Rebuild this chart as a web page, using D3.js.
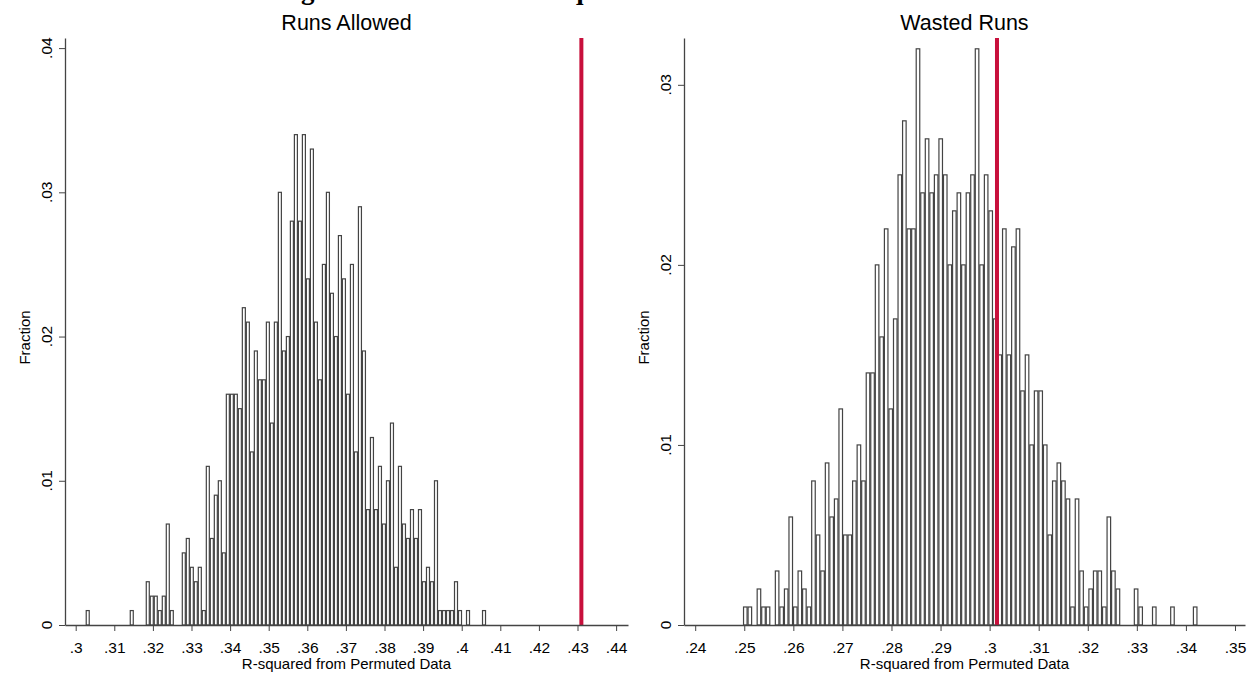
<!DOCTYPE html>
<html>
<head>
<meta charset="utf-8">
<script src="https://cdn.jsdelivr.net/npm/d3@7"></script>
<style>
  body { margin: 0; background: #fff; }
  text { font-family: "Liberation Sans", Arial, sans-serif; }
</style>
</head>
<body>
<svg width="1251" height="681"></svg>
<script>
// Data: counts per bin (out of 1000 permutations), 100 bins per panel
const runsAllowedCounts = [
    1, 0, 0, 0, 0, 0, 0, 0, 0, 0,
    0, 1, 0, 0, 0, 3, 2, 2, 1, 2,
    7, 1, 0, 0, 5, 6, 4, 3, 4, 1,
    11, 6, 9, 10, 5, 16, 16, 16, 15, 22,
    21, 12, 19, 17, 17, 21, 14, 21, 30, 19,
    20, 28, 34, 28, 34, 24, 33, 21, 17, 25,
    30, 23, 20, 27, 24, 16, 25, 12, 29, 19,
    8, 13, 8, 11, 7, 10, 14, 4, 11, 7,
    6, 8, 6, 8, 3, 4, 3, 10, 1, 1,
    1, 1, 3, 1, 0, 1, 0, 0, 0, 1
];
const wastedRunsCounts = [
    1, 1, 0, 2, 1, 1, 0, 3, 1, 2,
    6, 1, 3, 2, 1, 8, 5, 3, 9, 6,
    7, 12, 5, 5, 8, 10, 8, 14, 14, 20,
    16, 22, 12, 17, 25, 28, 22, 22, 32, 24,
    27, 24, 25, 27, 25, 20, 23, 24, 20, 24,
    25, 32, 20, 25, 23, 17, 15, 22, 15, 21,
    22, 13, 15, 10, 13, 13, 10, 5, 8, 9,
    8, 7, 1, 7, 3, 1, 2, 3, 3, 1,
    6, 3, 2, 0, 0, 0, 2, 1, 0, 0,
    1, 0, 0, 0, 1, 0, 0, 0, 0, 1
];
const totalPermutations = 1000;
const runsAllowedBins = { start: 0.3026, width: 0.001037 };
const wastedRunsBins = { start: 0.24975, width: 0.000926 };
const runsAllowedActual = 0.431;
const wastedRunsActual = 0.3015;
const runsAllowedXTicks = [0.3, 0.31, 0.32, 0.33, 0.34, 0.35, 0.36, 0.37, 0.38, 0.39, 0.4, 0.41, 0.42, 0.43, 0.44];
const wastedRunsXTicks = [0.24, 0.25, 0.26, 0.27, 0.28, 0.29, 0.3, 0.31, 0.32, 0.33, 0.34, 0.35];
const runsAllowedYTicks = [0, 0.01, 0.02, 0.03, 0.04];
const wastedRunsYTicks = [0, 0.01, 0.02, 0.03];

const svg = d3.select('svg');
const plotTop = 38;
const plotBottom = 625;
const axisColor = '#444';
const fmt = v => v === 0 ? '0' : d3.format('.2~f')(v).replace(/^0/, '');

// Figure title, cut off by the top edge as in the source
svg.append('text')
    .attr('x', 445)
    .attr('y', -1)
    .attr('text-anchor', 'middle')
    .style('font-family', '"Liberation Serif", "Times New Roman", serif')
    .style('font-weight', 'bold')
    .style('font-size', '27px')
    .text('Histograms of Permuted R-squared');

const drawPanel = p => {
    const x = d3.scaleLinear().domain(p.xDomain).range([p.left, p.right]);
    const y = d3.scaleLinear().domain(p.yDomain).range([plotBottom, plotTop]);
    const g = svg.append('g');

    // Title
    g.append('text')
        .attr('x', (p.left + p.right) / 2)
        .attr('y', 30)
        .attr('text-anchor', 'middle')
        .style('font-size', '21.5px')
        .text(p.title);

    // Bars
    g.selectAll('.bar')
        .data(p.counts.map((c, i) => ({ i, f: c / totalPermutations })).filter(d => d.f > 0))
        .enter().append('rect')
        .attr('class', 'bar')
        .attr('x', d => x(p.bins.start + d.i * p.bins.width) + 0.5)
        .attr('y', d => y(d.f))
        .attr('width', d => x(p.bins.start + (d.i + 1) * p.bins.width) - x(p.bins.start + d.i * p.bins.width) - 1)
        .attr('height', d => plotBottom - y(d.f))
        .attr('fill', '#fff')
        .attr('stroke', '#444')
        .attr('stroke-width', 1.2);

    // Red reference line (actual R-squared)
    g.append('line')
        .attr('x1', x(p.actual)).attr('x2', x(p.actual))
        .attr('y1', plotTop).attr('y2', plotBottom)
        .attr('stroke', '#c8103c')
        .attr('stroke-width', 4);

    // X axis
    const xAxis = g.append('g')
        .attr('transform', `translate(0, ${plotBottom})`)
        .call(d3.axisBottom(x).tickValues(p.xTicks).tickFormat(fmt).tickSize(6).tickSizeOuter(0));
    xAxis.select('.domain').attr('stroke', axisColor).attr('stroke-width', 1.3);
    xAxis.selectAll('line').attr('stroke', axisColor);
    xAxis.selectAll('text')
        .attr('dy', 0)
        .attr('y', 28)
        .attr('fill', '#000')
        .style('font-size', '15.5px')
        .style('font-family', '"Liberation Sans", Arial, sans-serif');

    // Y axis
    const yAxis = g.append('g')
        .attr('transform', `translate(${p.left}, 0)`)
        .call(d3.axisLeft(y).tickValues(p.yTicks).tickFormat('').tickSize(6).tickSizeOuter(0));
    yAxis.select('.domain').attr('stroke', axisColor).attr('stroke-width', 1.3);
    yAxis.selectAll('line').attr('stroke', axisColor);

    g.selectAll('.ylab')
        .data(p.yTicks)
        .enter().append('text')
        .attr('class', 'ylab')
        .attr('transform', d => `translate(${p.left - 13}, ${y(d)}) rotate(-90)`)
        .attr('text-anchor', 'middle')
        .style('font-size', '15.5px')
        .text(fmt);

    // Axis titles
    g.append('text')
        .attr('transform', `translate(${p.left - 35}, ${(plotTop + plotBottom) / 2 + 6}) rotate(-90)`)
        .attr('text-anchor', 'middle')
        .style('font-size', '15px')
        .text('Fraction');

    g.append('text')
        .attr('x', (p.left + p.right) / 2)
        .attr('y', 669)
        .attr('text-anchor', 'middle')
        .style('font-size', '15px')
        .text('R-squared from Permuted Data');
};

drawPanel({
    title: 'Runs Allowed',
    counts: runsAllowedCounts,
    bins: runsAllowedBins,
    actual: runsAllowedActual,
    xTicks: runsAllowedXTicks,
    yTicks: runsAllowedYTicks,
    xDomain: [0.29723, 0.44308],
    yDomain: [0, 0.0407],
    left: 65,
    right: 628
});

drawPanel({
    title: 'Wasted Runs',
    counts: wastedRunsCounts,
    bins: wastedRunsBins,
    actual: wastedRunsActual,
    xTicks: wastedRunsXTicks,
    yTicks: wastedRunsYTicks,
    xDomain: [0.23772, 0.35204],
    yDomain: [0, 0.0326],
    left: 684,
    right: 1245
});
</script>
</body>
</html>
